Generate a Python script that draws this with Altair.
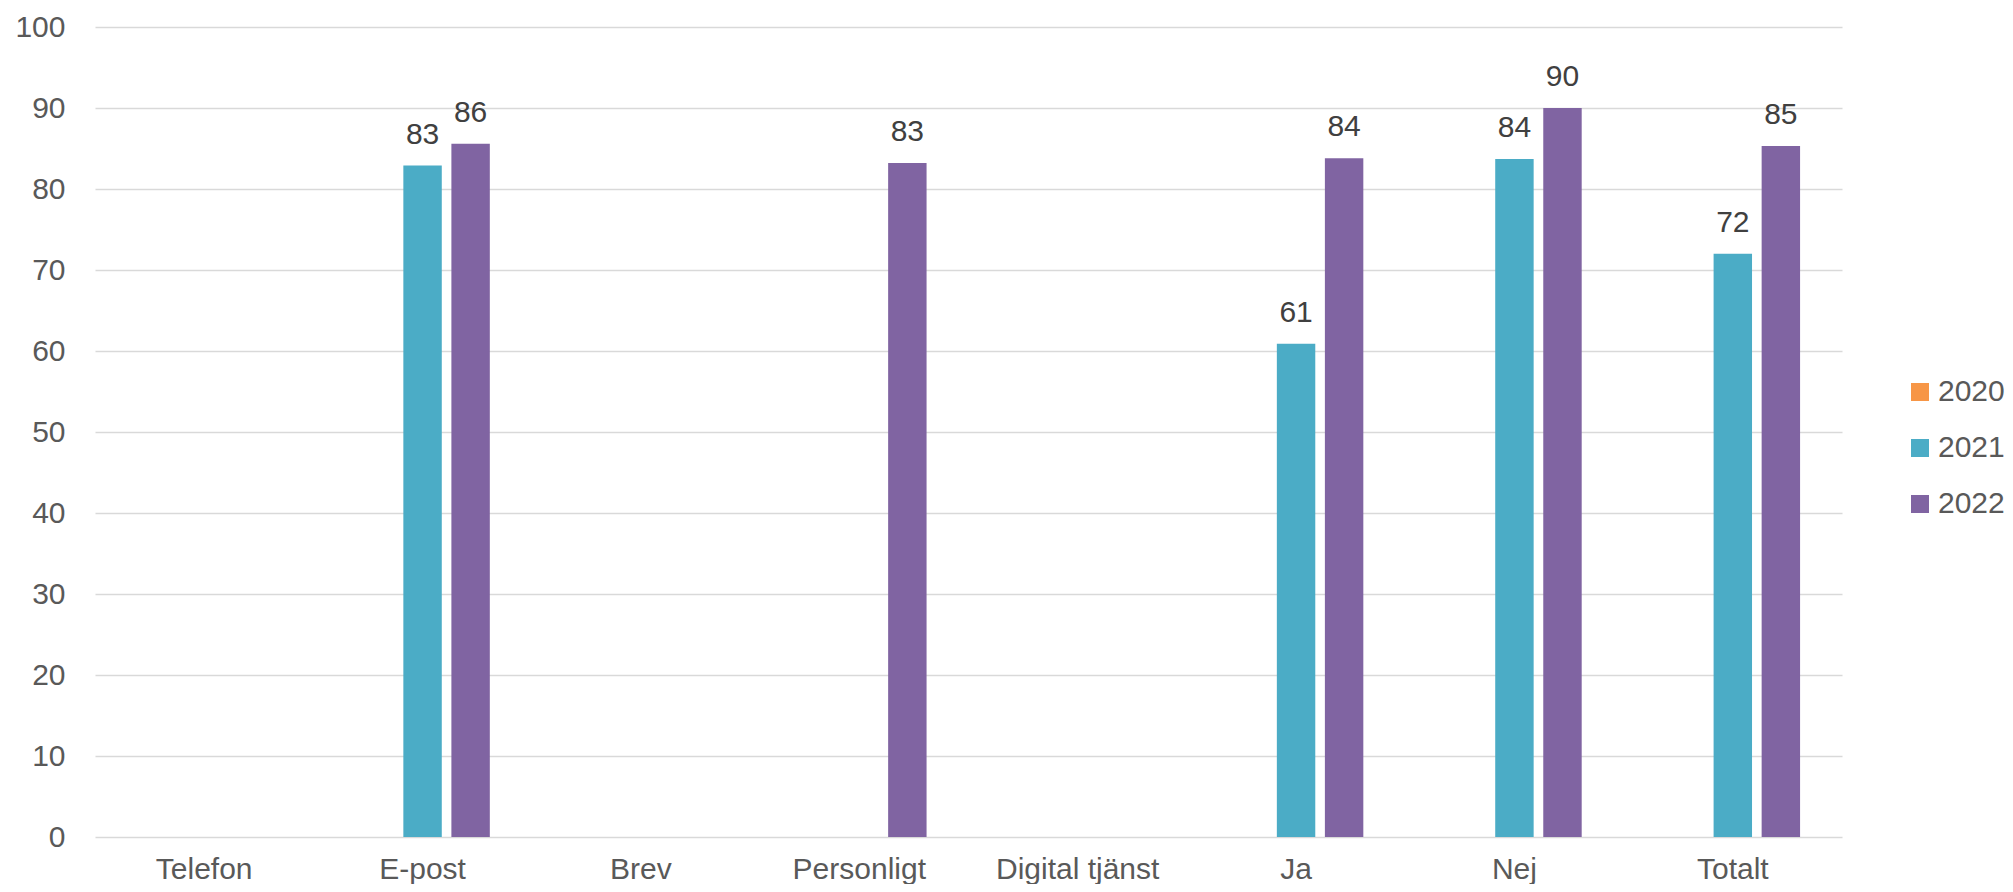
import altair as alt
import pandas as pd

categories = ["Telefon", "E-post", "Brev", "Personligt", "Digital tjänst", "Ja", "Nej", "Totalt"]
years = ["2020", "2021", "2022"]
colors = ["#F79646", "#4BACC6", "#8064A2"]
v2020 = [None, None, None, None, None, None, None, None]
v2021 = [None, 82.9, None, None, None, 60.9, 83.7, 72.0]
v2022 = [None, 85.6, None, 83.2, None, 83.8, 90.0, 85.3]
y_ticks = [0, 10, 20, 30, 40, 50, 60, 70, 80, 90, 100]

rows = []
for yr, vals in zip(years, [v2020, v2021, v2022]):
    for c, v in zip(categories, vals):
        if v is not None:
            rows.append({"kategori": c, "år": yr, "värde": v})
df = pd.DataFrame(rows)

FONT = "Liberation Sans"

x_scale = alt.Scale(domain=categories, paddingInner=0.34, paddingOuter=0.17)
y_scale = alt.Scale(domain=[0, 100], nice=False)

x_enc = alt.X("kategori:N", sort=categories, scale=x_scale,
              axis=alt.Axis(title=None, labelAngle=0, ticks=False, domain=False, grid=False,
                            labelFont=FONT, labelFontSize=30, labelColor="#595959",
                            labelPadding=17))
xo_enc = alt.XOffset("år:N", scale=alt.Scale(domain=years, paddingInner=0.2, paddingOuter=0.1))
y_enc = alt.Y("värde:Q", scale=y_scale,
              axis=alt.Axis(title=None, values=y_ticks, ticks=False, domain=False,
                            grid=True, gridColor="#d9d9d9", gridWidth=1.5,
                            labelFont=FONT, labelFontSize=30, labelColor="#595959",
                            labelPadding=30))

base = alt.Chart(df)

bars = base.mark_bar().encode(
    x=x_enc,
    xOffset=xo_enc,
    y=y_enc,
    color=alt.Color("år:N", scale=alt.Scale(domain=years, range=colors),
                    legend=alt.Legend(title=None, orient="none", legendX=1810, legendY=350,
                                      symbolType="square", symbolSize=324, symbolStrokeWidth=0,
                                      labelFont=FONT, labelFontSize=30, labelColor="#595959",
                                      labelOffset=3, rowPadding=26)),
)

labels = base.mark_text(baseline="alphabetic", dy=-22, font=FONT, fontSize=30,
                        color="#404040").encode(
    x=alt.X("kategori:N", sort=categories, scale=x_scale),
    xOffset=xo_enc,
    y=alt.Y("värde:Q", scale=y_scale),
    text=alt.Text("värde:Q", format=".0f"),
)

chart = alt.layer(bars, labels).properties(
    width=1747, height=810,
    autosize=alt.AutoSizeParams(type="none"),
    padding={"left": 87, "top": 19, "right": 163, "bottom": 47},
).configure_view(stroke=None)

chart.save("out.html", embed_options={"renderer": "svg", "actions": False})
